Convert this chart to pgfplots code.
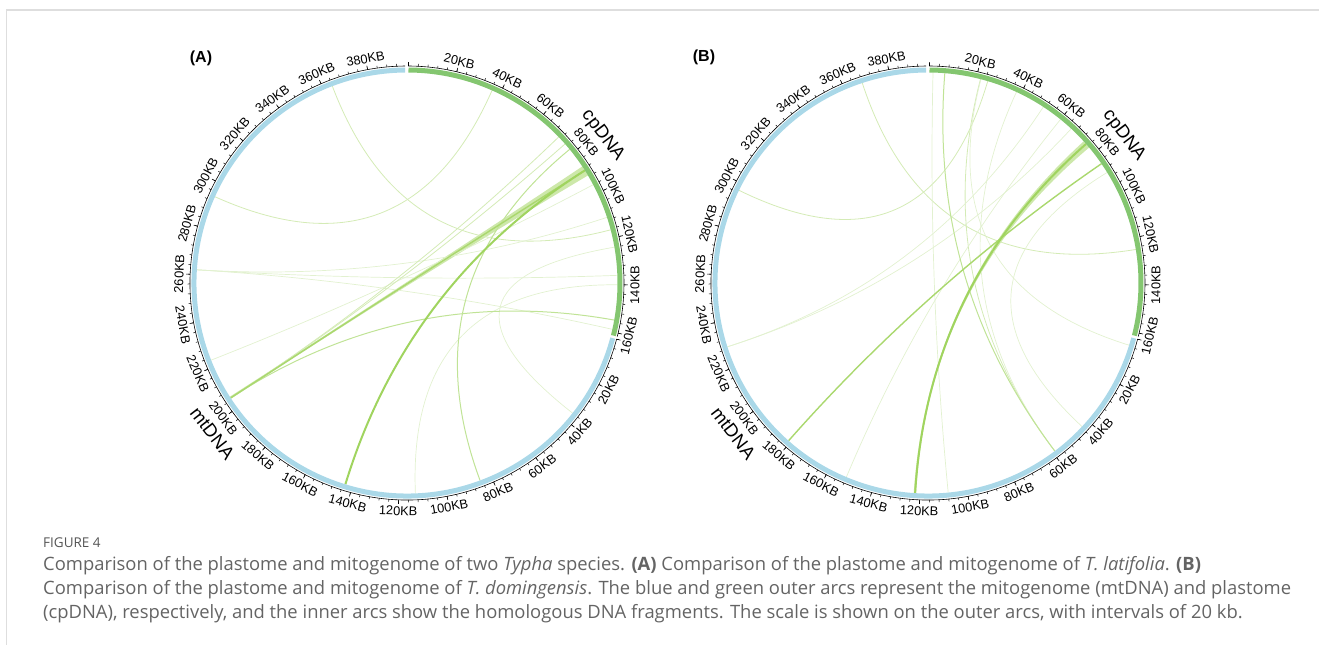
\documentclass[border=0pt]{standalone}
\usepackage{pgfplots}
\pgfplotsset{compat=1.18}
\usepackage{pgfplotstable}
\usepackage{fontspec}
\setmainfont{Liberation Sans}
\newfontfamily\capfont{Open Sans}
\definecolor{mtblue}{RGB}{170,216,232}
\definecolor{cpgreen}{RGB}{132,198,112}
\definecolor{capgray}{RGB}{100,100,100}
\definecolor{framegray}{RGB}{222,222,222}
\tikzset{
 ls1/.style={draw={rgb,255:red,226;green,241;blue,208}, line width=0.7bp},
 ls2/.style={draw={rgb,255:red,212;green,235;blue,182}, line width=0.8bp},
 ls3/.style={draw={rgb,255:red,192;green,227;blue,150}, line width=1bp},
 ls4/.style={draw={rgb,255:red,170;green,216;blue,110}, line width=1.4bp},
 ls5/.style={draw={rgb,255:red,160;green,212;blue,95}, line width=2bp},
 rib/.style={fill={rgb,255:red,205;green,232;blue,170}, draw=none},
 lab/.style={font=\fontsize{12.8bp}{13bp}\selectfont, inner sep=0pt},
}
% link: #1 centre x, #2 cp position (KB), #3 mt position (KB), #4 style
\newcommand\lk[4]{%
 \draw[#4] (axis cs:{#1+210.5*cos(89.6-0.6435*#2)},{362+210.5*sin(89.6-0.6435*#2)})
 .. controls (axis cs:{#1+70.17*cos(89.6-0.6435*#2)},{362+70.17*sin(89.6-0.6435*#2)})
 and (axis cs:{#1+70.17*cos(-15-0.6435*#3)},{362+70.17*sin(-15-0.6435*#3)})
 .. (axis cs:{#1+210.5*cos(-15-0.6435*#3)},{362+210.5*sin(-15-0.6435*#3)});}
% ribbon: #1 centre x, #2 cp start, #3 cp end, #4 mt start, #5 mt end, #6 style
\newcommand\rb[6]{%
 \path[#6] (axis cs:{#1+210.5*cos(89.6-0.6435*#2)},{362+210.5*sin(89.6-0.6435*#2)})
 .. controls (axis cs:{#1+70.17*cos(89.6-0.6435*#2)},{362+70.17*sin(89.6-0.6435*#2)})
 and (axis cs:{#1+70.17*cos(-15-0.6435*#5)},{362+70.17*sin(-15-0.6435*#5)})
 .. (axis cs:{#1+210.5*cos(-15-0.6435*#5)},{362+210.5*sin(-15-0.6435*#5)})
 -- (axis cs:{#1+210.5*cos(-15-0.6435*#4)},{362+210.5*sin(-15-0.6435*#4)})
 .. controls (axis cs:{#1+70.17*cos(-15-0.6435*#4)},{362+70.17*sin(-15-0.6435*#4)})
 and (axis cs:{#1+70.17*cos(89.6-0.6435*#3)},{362+70.17*sin(89.6-0.6435*#3)})
 .. (axis cs:{#1+210.5*cos(89.6-0.6435*#3)},{362+210.5*sin(89.6-0.6435*#3)}) -- cycle;}
% genome ring with ticks and labels, #1 centre x
\newcommand\ring[1]{%
 \draw[mtblue, line width=5bp] (axis cs:{#1+213*cos(-15)},{362+213*sin(-15)}) arc[start angle=-15, end angle=-269.5, radius=213bp];
 \draw[cpgreen, line width=5bp] (axis cs:{#1+213*cos(89.6)},{362+213*sin(89.6)}) arc[start angle=89.6, end angle=-14.3, radius=213bp];
 \draw[black, line width=0.6bp] (axis cs:{#1+217*cos(-15)},{362+217*sin(-15)}) arc[start angle=-15, end angle=-269.5, radius=217bp];
 \draw[black, line width=0.6bp] (axis cs:{#1+217*cos(89.6)},{362+217*sin(89.6)}) arc[start angle=89.6, end angle=-14.3, radius=217bp];
 \pgfplotsinvokeforeach{0,4,...,160}{\draw[black, line width=0.5bp] (axis cs:{#1+217*cos(89.6-0.6435*##1)},{362+217*sin(89.6-0.6435*##1)}) -- (axis cs:{#1+219.3*cos(89.6-0.6435*##1)},{362+219.3*sin(89.6-0.6435*##1)});}
 \pgfplotsinvokeforeach{0,4,...,392}{\draw[black, line width=0.5bp] (axis cs:{#1+217*cos(-15-0.6435*##1)},{362+217*sin(-15-0.6435*##1)}) -- (axis cs:{#1+219.3*cos(-15-0.6435*##1)},{362+219.3*sin(-15-0.6435*##1)});}
 \pgfplotsinvokeforeach{0,20,...,160}{\draw[black, line width=0.6bp] (axis cs:{#1+217*cos(89.6-0.6435*##1)},{362+217*sin(89.6-0.6435*##1)}) -- (axis cs:{#1+221*cos(89.6-0.6435*##1)},{362+221*sin(89.6-0.6435*##1)});}
 \pgfplotsinvokeforeach{0,20,...,380}{\draw[black, line width=0.6bp] (axis cs:{#1+217*cos(-15-0.6435*##1)},{362+217*sin(-15-0.6435*##1)}) -- (axis cs:{#1+221*cos(-15-0.6435*##1)},{362+221*sin(-15-0.6435*##1)});}
 \pgfplotsinvokeforeach{20,40,...,160}{\node[lab, rotate={ifthenelse(89.6-0.6435*##1<0, 89.6-0.6435*##1+90, 89.6-0.6435*##1-90)}] at (axis cs:{#1+228*cos(89.6-0.6435*##1)},{362+228*sin(89.6-0.6435*##1)}) {##1KB};}
 \pgfplotsinvokeforeach{20,40,...,380}{\node[lab, rotate={ifthenelse(-15-0.6435*##1<-180, 255-0.6435*##1, 75-0.6435*##1)}] at (axis cs:{#1+228*cos(-15-0.6435*##1)},{362+228*sin(-15-0.6435*##1)}) {##1KB};}
 \node[font=\fontsize{18.5bp}{18.5bp}\selectfont, inner sep=0pt, rotate=-53] at (axis cs:{#1+245*cos(37)},{362+245*sin(37)}) {cpDNA};
 \node[font=\fontsize{18.5bp}{18.5bp}\selectfont, inner sep=0pt, rotate=-52.3] at (axis cs:{#1+246*cos(-142.3)},{362+246*sin(-142.3)}) {mtDNA};
}
\newcommand\drawlinks[2]{% #1 table, #2 centre x
 \pgfplotstablegetrowsof{#1}\pgfmathtruncatemacro\nlast{\pgfplotsretval-1}%
 \pgfplotsforeachungrouped \i in {0,...,\nlast}{%
  \pgfplotstablegetelem{\i}{cp}\of#1\let\vcp\pgfplotsretval
  \pgfplotstablegetelem{\i}{mt}\of#1\let\vmt\pgfplotsretval
  \pgfplotstablegetelem{\i}{s}\of#1\let\vs\pgfplotsretval
  \edef\tmp{\noexpand\lk{#2}{\vcp}{\vmt}{ls\vs}}\tmp}}

% homologous fragments: plastome position (KB), mitogenome position (KB), strength
\pgfplotstableread{
cp mt s
116.5 364 2
36.4 294 2
159 262 1
136 262 1
111 262 1
96 223 1
140 113 1
124 36 1
71 205 2
75 205 2
78 85 3
155 205 3
89 205 4
89 143 5
}\linksA
\pgfplotstableread{
cp mt s
125 368 2
25 297 2
1.5 108 1
21.8 59 2
38 59 1
51 229 1
66 229 1
60 152 1
90 43.5 1
22 3.4 1
6.5 59 3
85.6 181 4
75 122 5
}\linksB

\begin{document}
\begin{tikzpicture}
\useasboundingbox (0,0) rectangle (1319bp,645bp);
\begin{axis}[at={(0,0)}, anchor=south west, width=1319bp, height=645bp, scale only axis,
 xmin=0, xmax=1319, ymin=0, ymax=645, hide axis, clip=false]
\draw[framegray, line width=1.5bp] (axis cs:6.5,0) -- (axis cs:6.5,635) -- (axis cs:1319,635);
% panel A
\rb{407}{87}{91.5}{204.6}{205.6}{rib}
\drawlinks{\linksA}{407}
\ring{407}
\node[font=\bfseries\fontsize{16bp}{16bp}\selectfont, inner sep=0pt] at (axis cs:201,587) {(A)};
% panel B
\rb{928}{73.5}{77}{121.6}{122.6}{rib}
\drawlinks{\linksB}{928}
\ring{928}
\node[font=\bfseries\fontsize{16bp}{16bp}\selectfont, inner sep=0pt] at (axis cs:704,588) {(B)};
% caption
\node[anchor=base west, inner sep=0pt, font=\capfont\fontsize{13.5bp}{13.5bp}\selectfont, text=capgray!85!black] at (axis cs:43,97) {FIGURE 4};
\node[anchor=base west, inner sep=0pt, font=\capfont\fontsize{18.4bp}{18.4bp}\selectfont, text=capgray] at (axis cs:43,74) {Comparison of the plastome and mitogenome of two \textit{Typha} species. \textbf{(A)} Comparison of the plastome and mitogenome of \textit{T. latifolia}. \textbf{(B)}};
\node[anchor=base west, inner sep=0pt, font=\capfont\fontsize{18.4bp}{18.4bp}\selectfont, text=capgray] at (axis cs:43,50) {Comparison of the plastome and mitogenome of \textit{T. domingensis}. The blue and green outer arcs represent the mitogenome (mtDNA) and plastome};
\node[anchor=base west, inner sep=0pt, font=\capfont\fontsize{18.4bp}{18.4bp}\selectfont, text=capgray] at (axis cs:43,27) {(cpDNA), respectively, and the inner arcs show the homologous DNA fragments. The scale is shown on the outer arcs, with intervals of 20 kb.};
\end{axis}
\end{tikzpicture}
\end{document}
